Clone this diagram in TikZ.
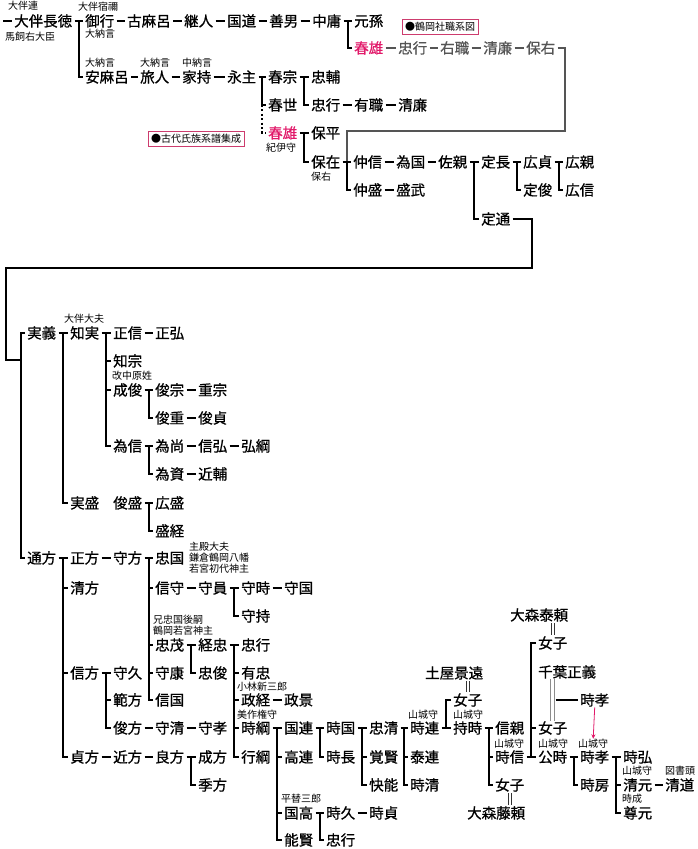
\documentclass[tikz,border=0pt]{standalone}
\usepackage{fontspec}
\setmainfont{Noto Sans CJK JP}
\newfontfamily\nmfont{Noto Sans CJK JP}[FakeBold=0.8]
\usetikzlibrary{calc,arrows.meta}
\definecolor{hred}{RGB}{225,25,105}
\definecolor{hgray}{RGB}{85,85,85}
\definecolor{boxc}{RGB}{205,60,110}
\begin{document}
\begin{tikzpicture}[x=1pt,y=-1pt,
  nm/.style={anchor=west, inner xsep=2.2pt, inner ysep=0pt, xshift=-2.2pt, font=\nmfont\fontsize{14.5}{16}\selectfont, text height=12.7pt, text depth=1.8pt},
  lb/.style={anchor=west, inner sep=0pt, font=\fontsize{10}{11}\selectfont, text height=8.8pt, text depth=1.2pt},
  bx/.style={draw=boxc, line width=0.8pt, inner xsep=3pt, inner ysep=2.5pt, font=\fontsize{10}{11}\selectfont, text height=8.8pt, text depth=1.2pt},
  tl/.style={line width=1.9pt},
  gl/.style={line width=1.9pt, draw=hgray},
  dl/.style={line width=1.9pt, dash pattern=on 2pt off 2.4pt},
  eq/.style={line width=0.8pt, draw=black!80},
  eqg/.style={line width=1.2pt, draw=black!45}]
\useasboundingbox (0,0) rectangle (697,849);
% ---------- upper part ----------
\node[lb] (L1) at (8,6) {大伴連};
\node[nm] (N1) at (14,21) {大伴長徳};
\node[lb] (L2) at (5,37) {馬飼右大臣};
\node[nm] (N2) at (85,21) {御行};
\node[lb] (L3) at (78,7) {大伴宿禰};
\node[lb] (L4) at (85,34) {大納言};
\node[nm] (N3) at (127,21) {古麻呂};
\node[nm] (N4) at (184,21) {継人};
\node[nm] (N5) at (227,21) {国道};
\node[nm] (N6) at (269,21) {善男};
\node[nm] (N7) at (312,21) {中庸};
\node[nm] (N8) at (354,21) {元孫};
\node[nm,text=hred] (N9) at (354,48) {春雄};
\node[nm,text=hgray] (G1) at (398,48) {忠行};
\node[nm,text=hgray] (G2) at (440,48) {右職};
\node[nm,text=hgray] (G3) at (483,48) {清廉};
\node[nm,text=hgray] (G4) at (526,48) {保右};
\node[bx] (B1) at (440,27) {●鶴岡社職系図};
\node[nm] (A1) at (85,77) {安麻呂};
\node[lb] (L5) at (85,63) {大納言};
\node[nm] (A2) at (140,77) {旅人};
\node[lb] (L6) at (140,63) {大納言};
\node[nm] (A3) at (182,77) {家持};
\node[lb] (L7) at (182,63) {中納言};
\node[nm] (A4) at (227,77) {永主};
\node[nm] (A5) at (268,77) {春宗};
\node[nm] (A6) at (311,77) {忠輔};
\node[nm] (A7) at (268,105) {春世};
\node[nm] (A8) at (311,105) {忠行};
\node[nm] (A9) at (354,105) {有職};
\node[nm] (A10) at (398,105) {清廉};
\node[nm,text=hred] (A11) at (268,133) {春雄};
\node[lb] (L8) at (266,148) {紀伊守};
\node[nm] (A12) at (311,133) {保平};
\node[nm] (A13) at (311,162) {保在};
\node[lb] (L9) at (311,177) {保右};
\node[bx] (B2) at (196,139) {●古代氏族系譜集成};
\node[nm] (P1) at (353,162) {仲信};
\node[nm] (P2) at (396,162) {為国};
\node[nm] (P3) at (438,162) {佐親};
\node[nm] (P4) at (353,190) {仲盛};
\node[nm] (P5) at (396,190) {盛武};
\node[nm] (P6) at (481,162) {定長};
\node[nm] (P7) at (481,219) {定通};
\node[nm] (P8) at (523,162) {広貞};
\node[nm] (P9) at (523,190) {定俊};
\node[nm] (P10) at (565,162) {広親};
\node[nm] (P11) at (565,190) {広信};
\coordinate (S0) at (3,21);
\draw[tl] (S0) -- (N1.west);
\draw[tl] (N1.east) -- (N2.west);
\draw[tl] ($(N1.east)!.5!(N2.west)$) |- (A1.west);
\draw[tl] (N2.east) -- (N3.west);
\draw[tl] (N3.east) -- (N4.west);
\draw[tl] (N4.east) -- (N5.west);
\draw[tl] (N5.east) -- (N6.west);
\draw[tl] (N6.east) -- (N7.west);
\draw[tl] (N7.east) -- (N8.west);
\draw[tl] ($(N7.east)!.5!(N8.west)$) |- (N9.west);
\draw[gl] (N9.east) -- (G1.west);
\draw[gl] (G1.east) -- (G2.west);
\draw[gl] (G2.east) -- (G3.west);
\draw[gl] (G3.east) -- (G4.west);
\coordinate (GC) at (565,131);
\draw[gl] (G4.east) -| (GC) -| ($(A13.east)!.5!(P1.west)$);
\draw[tl] (A1.east) -- (A2.west);
\draw[tl] (A2.east) -- (A3.west);
\draw[tl] (A3.east) -- (A4.west);
\draw[tl] (A4.east) -- (A5.west);
\draw[tl] (A5.east) -- (A6.west);
\coordinate (V1) at ($(A4.east)!.5!(A5.west)$);
\draw[tl] (V1) |- (A7.west);
\draw[dl] (A7.west -| V1) |- (A11.west);
\draw[tl] ($(A5.east)!.5!(A6.west)$) |- (A8.west);
\draw[tl] (A8.east) -- (A9.west);
\draw[tl] (A9.east) -- (A10.west);
\draw[tl] (A11.east) -- (A12.west);
\draw[tl] ($(A11.east)!.5!(A12.west)$) |- (A13.west);
\draw[tl] (A13.east) -- (P1.west);
\draw[tl] ($(A13.east)!.5!(P1.west)$) |- (P4.west);
\draw[tl] (P1.east) -- (P2.west);
\draw[tl] (P2.east) -- (P3.west);
\draw[tl] (P4.east) -- (P5.west);
\draw[tl] (P3.east) -- (P6.west);
\draw[tl] ($(P3.east)!.5!(P6.west)$) |- (P7.west);
\draw[tl] (P6.east) -- (P8.west);
\draw[tl] ($(P6.east)!.5!(P8.west)$) |- (P9.west);
\draw[tl] (P8.east) -- (P10.west);
\draw[tl] ($(P8.east)!.5!(P10.west)$) |- (P11.west);
\coordinate (K1) at (532,268);
\coordinate (K2) at (6,360);
\coordinate (JV) at (21,360);
\draw[tl] (P7.east) -| (K1) -| (K2) -- (JV);
% ---------- lower part ----------
\node[nm] (C1) at (27,333) {実義};
\node[nm] (C2) at (27,558) {通方};
\draw[tl] (JV) |- (C1.west);
\draw[tl] (JV) |- (C2.west);
\node[nm] (D1) at (70,333) {知実};
\node[lb] (L10) at (64,319) {大伴大夫};
\node[nm] (D2) at (70,503) {実盛};
\draw[tl] (C1.east) -- (D1.west);
\draw[tl] ($(C1.east)!.5!(D1.west)$) |- (D2.west);
\node[nm] (D3) at (113,333) {正信};
\node[nm] (D4) at (155,333) {正弘};
\node[nm] (D5) at (113,361) {知宗};
\node[nm] (D6) at (113,390) {成俊};
\node[lb] (L11) at (112,376) {改中原姓};
\node[nm] (D7) at (113,446) {為信};
\draw[tl] (D1.east) -- (D3.west);
\draw[tl] ($(D1.east)!.5!(D3.west)$) |- (D5.west);
\draw[tl] ($(D1.east)!.5!(D3.west)$) |- (D6.west);
\draw[tl] ($(D1.east)!.5!(D3.west)$) |- (D7.west);
\draw[tl] (D3.east) -- (D4.west);
\node[nm] (D8) at (155,390) {俊宗};
\node[nm] (D9) at (198,390) {重宗};
\node[nm] (D10) at (155,418) {俊重};
\node[nm] (D11) at (198,418) {俊貞};
\draw[tl] (D6.east) -- (D8.west);
\draw[tl] ($(D6.east)!.5!(D8.west)$) |- (D10.west);
\draw[tl] (D8.east) -- (D9.west);
\draw[tl] (D10.east) -- (D11.west);
\node[nm] (D12) at (155,446) {為尚};
\node[nm] (D13) at (198,446) {信弘};
\node[nm] (D14) at (241,446) {弘綱};
\node[nm] (D15) at (155,474) {為資};
\node[nm] (D16) at (198,474) {近輔};
\draw[tl] (D7.east) -- (D12.west);
\draw[tl] ($(D7.east)!.5!(D12.west)$) |- (D15.west);
\draw[tl] (D12.east) -- (D13.west);
\draw[tl] (D13.east) -- (D14.west);
\draw[tl] (D15.east) -- (D16.west);
\node[nm] (D17) at (113,503) {俊盛};
\node[nm] (D18) at (155,503) {広盛};
\node[nm] (D19) at (155,531) {盛経};
\draw[tl] (D17.east) -- (D18.west);
\draw[tl] ($(D17.east)!.5!(D18.west)$) |- (D19.west);
\node[nm] (E1) at (70,558) {正方};
\node[nm] (E2) at (113,558) {守方};
\node[nm] (E3) at (70,588) {清方};
\node[nm] (E4) at (70,673) {信方};
\node[nm] (E5) at (70,757) {貞方};
\draw[tl] (C2.east) -- (E1.west);
\draw[tl] ($(C2.east)!.5!(E1.west)$) |- (E3.west);
\draw[tl] ($(C2.east)!.5!(E1.west)$) |- (E4.west);
\draw[tl] ($(C2.east)!.5!(E1.west)$) |- (E5.west);
\draw[tl] (E1.east) -- (E2.west);
\node[nm] (F1) at (155,558) {忠国};
\node[lb] (L12) at (189,547) {主殿大夫};
\node[lb] (L13) at (189,558) {鎌倉鶴岡八幡};
\node[lb] (L14) at (189,569) {若宮初代神主};
\node[nm] (F2) at (155,588) {信守};
\node[nm] (F3) at (198,588) {守員};
\node[nm] (F4) at (241,588) {守時};
\node[nm] (F5) at (284,588) {守国};
\node[nm] (F6) at (241,616) {守持};
\node[lb] (L15) at (153,620) {兄忠国後嗣};
\node[lb] (L16) at (153,631) {鶴岡若宮神主};
\node[nm] (F7) at (155,645) {忠茂};
\node[nm] (F8) at (198,645) {経忠};
\node[nm] (F9) at (198,673) {忠俊};
\node[nm] (F10) at (155,673) {守康};
\node[nm] (F11) at (155,700) {信国};
\draw[tl] (E2.east) -- (F1.west);
\draw[tl] ($(E2.east)!.5!(F1.west)$) |- (F2.west);
\draw[tl] ($(E2.east)!.5!(F1.west)$) |- (F7.west);
\draw[tl] ($(E2.east)!.5!(F1.west)$) |- (F10.west);
\draw[tl] ($(E2.east)!.5!(F1.west)$) |- (F11.west);
\draw[tl] (F2.east) -- (F3.west);
\draw[tl] (F3.east) -- (F4.west);
\draw[tl] ($(F3.east)!.5!(F4.west)$) |- (F6.west);
\draw[tl] (F4.east) -- (F5.west);
\draw[tl] (F7.east) -- (F8.west);
\draw[tl] ($(F7.east)!.5!(F8.west)$) |- (F9.west);
\node[nm] (H1) at (241,645) {忠行};
\node[nm] (H2) at (241,673) {有忠};
\node[nm] (H3) at (241,700) {政経};
\node[lb] (L17) at (237,687) {小林新三郎};
\node[nm] (H4) at (241,728) {時綱};
\node[lb] (L18) at (237,715) {美作権守};
\node[nm] (H5) at (241,757) {行綱};
\node[nm] (H6) at (284,700) {政景};
\draw[tl] (F8.east) -- (H1.west);
\draw[tl] ($(F8.east)!.5!(H1.west)$) |- (H2.west);
\draw[tl] ($(F8.east)!.5!(H1.west)$) |- (H3.west);
\draw[tl] ($(F8.east)!.5!(H1.west)$) |- (H4.west);
\draw[tl] ($(F8.east)!.5!(H1.west)$) |- (H5.west);
\draw[tl] (H3.east) -- (H6.west);
\node[nm] (M1) at (113,673) {守久};
\node[nm] (M2) at (113,700) {範方};
\node[nm] (M3) at (113,728) {俊方};
\node[nm] (M4) at (155,728) {守清};
\node[nm] (M5) at (198,728) {守孝};
\draw[tl] (E4.east) -- (M1.west);
\draw[tl] ($(E4.east)!.5!(M1.west)$) |- (M2.west);
\draw[tl] ($(E4.east)!.5!(M1.west)$) |- (M3.west);
\draw[tl] (M3.east) -- (M4.west);
\draw[tl] (M4.east) -- (M5.west);
\node[nm] (R1) at (113,757) {近方};
\node[nm] (R2) at (155,757) {良方};
\node[nm] (R3) at (198,757) {成方};
\node[nm] (R4) at (198,785) {季方};
\draw[tl] (E5.east) -- (R1.west);
\draw[tl] (R1.east) -- (R2.west);
\draw[tl] (R2.east) -- (R3.west);
\draw[tl] ($(R2.east)!.5!(R3.west)$) |- (R4.west);
\node[nm] (T1) at (284,728) {国連};
\node[nm] (T2) at (284,757) {高連};
\node[nm] (T3) at (284,813) {国高};
\node[lb] (L19) at (281,799) {平替三郎};
\node[nm] (T4) at (284,840) {能賢};
\draw[tl] (H4.east) -- (T1.west);
\draw[tl] ($(H4.east)!.5!(T1.west)$) |- (T2.west);
\draw[tl] ($(H4.east)!.5!(T1.west)$) |- (T3.west);
\draw[tl] ($(H4.east)!.5!(T1.west)$) |- (T4.west);
\node[nm] (T5) at (326,728) {時国};
\node[nm] (T6) at (326,757) {時長};
\draw[tl] (T1.east) -- (T5.west);
\draw[tl] ($(T1.east)!.5!(T5.west)$) |- (T6.west);
\node[nm] (T7) at (369,728) {忠清};
\node[nm] (T8) at (369,757) {覚賢};
\node[nm] (T9) at (369,785) {快能};
\draw[tl] (T5.east) -- (T7.west);
\draw[tl] ($(T5.east)!.5!(T7.west)$) |- (T8.west);
\draw[tl] ($(T5.east)!.5!(T7.west)$) |- (T9.west);
\node[nm] (T10) at (326,813) {時久};
\node[nm] (T11) at (369,813) {時貞};
\node[nm] (T12) at (326,840) {忠行};
\draw[tl] (T3.east) -- (T10.west);
\draw[tl] ($(T3.east)!.5!(T10.west)$) |- (T12.west);
\draw[tl] (T10.east) -- (T11.west);
\node[nm] (U1) at (410,728) {時連};
\node[lb] (L20) at (408,715) {山城守};
\node[nm] (U2) at (410,757) {泰連};
\node[nm] (U3) at (410,785) {時清};
\draw[tl] (T7.east) -- (U1.west);
\draw[tl] ($(T7.east)!.5!(U1.west)$) |- (U2.west);
\draw[tl] ($(T7.east)!.5!(U1.west)$) |- (U3.west);
\node[nm] (U4) at (425,673) {土屋景遠};
\node[nm] (U5) at (453,700) {女子};
\node[nm] (U6) at (453,728) {持時};
\node[lb] (L21) at (453,715) {山城守};
\draw[tl] (U1.east) -- (U6.west);
\draw[tl] ($(U1.east)!.5!(U6.west)$) |- (U5.west);
\draw[eq] ([xshift=-1.6pt,yshift=-1pt]U4.south -| U5.north) -- ([xshift=-1.6pt,yshift=1pt]U5.north);
\draw[eq] ([xshift=1.6pt,yshift=-1pt]U4.south -| U5.north) -- ([xshift=1.6pt,yshift=1pt]U5.north);
\node[nm] (W1) at (495,728) {信親};
\node[nm] (W2) at (495,757) {時信};
\node[lb] (L22) at (494,744) {山城守};
\node[nm] (W3) at (495,785) {女子};
\node[nm] (W4) at (467,813) {大森藤頼};
\draw[tl] (U6.east) -- (W1.west);
\draw[tl] ($(U6.east)!.5!(W1.west)$) |- (W2.west);
\draw[tl] ($(U6.east)!.5!(W1.west)$) |- (W3.west);
\draw[eq] ([xshift=-1.6pt,yshift=-1pt]W3.south) -- ([xshift=-1.6pt,yshift=1pt]W4.north -| W3.south);
\draw[eq] ([xshift=1.6pt,yshift=-1pt]W3.south) -- ([xshift=1.6pt,yshift=1pt]W4.north -| W3.south);
\node[nm] (X1) at (510,615) {大森泰頼};
\node[nm] (X2) at (538,643) {女子};
\node[nm] (X3) at (538,672) {千葉正義};
\node[nm] (X4) at (538,728) {女子};
\node[nm] (X5) at (538,757) {公時};
\node[lb] (L23) at (538,744) {山城守};
\draw[tl] (W2.east) -- (X5.west);
\draw[tl] ($(W2.east)!.5!(X5.west)$) |- (X2.west);
\draw[tl] ($(W2.east)!.5!(X5.west)$) |- (X4.west);
\draw[eq] ([xshift=-1.6pt,yshift=-1pt]X1.south -| X2.north) -- ([xshift=-1.6pt,yshift=1pt]X2.north);
\draw[eq] ([xshift=1.6pt,yshift=-1pt]X1.south -| X2.north) -- ([xshift=1.6pt,yshift=1pt]X2.north);
\node[nm] (Y1) at (580,700) {時孝};
\node[nm] (Y2) at (580,757) {時孝};
\node[lb] (L24) at (578,744) {山城守};
\node[nm] (Y3) at (580,785) {時房};
\draw[eqg] ([xshift=-2pt]X3.south -| X4.north) -- ([xshift=-2pt]X4.north);
\draw[eqg] ([xshift=2pt]X3.south -| X4.north) -- ([xshift=2pt]X4.north);
\coordinate (DD) at (X4.north |- Y1.west);
\draw[tl] ([xshift=3pt]DD) -- (Y1.west);
\draw[hred, line width=0.8pt, -{Stealth[length=4.5pt,width=4pt]}] (Y1.south) -- (L24.north);
\draw[tl] (X5.east) -- (Y2.west);
\draw[tl] ($(X5.east)!.5!(Y2.west)$) |- (Y3.west);
\node[nm] (Z1) at (623,757) {時弘};
\node[nm] (Z2) at (623,785) {清元};
\node[lb] (L25) at (622,771) {山城守};
\node[lb] (L26) at (622,799) {時成};
\node[nm] (Z3) at (623,813) {尊元};
\node[nm] (Z4) at (665,785) {清道};
\node[lb] (L27) at (665,771) {図書頭};
\draw[tl] (Y2.east) -- (Z1.west);
\draw[tl] ($(Y2.east)!.5!(Z1.west)$) |- (Z2.west);
\draw[tl] ($(Y2.east)!.5!(Z1.west)$) |- (Z3.west);
\draw[tl] (Z2.east) -- (Z4.west);
\end{tikzpicture}
\end{document}
